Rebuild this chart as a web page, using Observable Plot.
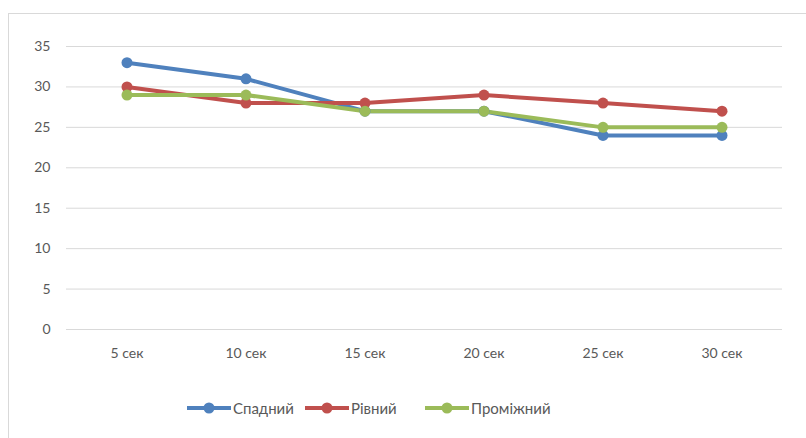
<!DOCTYPE html>
<html>
<head>
<meta charset="utf-8">
<script src="https://cdn.jsdelivr.net/npm/d3@7"></script>
<script src="https://cdn.jsdelivr.net/npm/@observablehq/plot@0.6"></script>
<style>
  html, body { margin: 0; padding: 0; background: #fff; }
  body { width: 806px; height: 438px; position: relative; overflow: hidden;
         font-family: Lato, "Open Sans", sans-serif; }
  #frame { position: absolute; left: 8px; top: 13px; width: 820px; height: 440px;
           border-top: 1px solid #d9d9d9; border-left: 1px solid #d9d9d9; }
  #chart { position: absolute; left: 0; top: 0; }
  #legend { position: absolute; left: 0; top: 396px; width: 806px; height: 24px; }
  .item { position: absolute; top: 0; display: flex; align-items: center; height: 24px;
          font-size: 15px; color: #595959; }
  .item svg { display: block; margin-right: 2px; }
</style>
</head>
<body>
<div id="frame"></div>
<div id="chart"></div>
<div id="legend"></div>
<script>
const categories = ["5 сек", "10 сек", "15 сек", "20 сек", "25 сек", "30 сек"];
const seriesNames = ["Спадний", "Рівний", "Проміжний"];
const spadnyi = [33, 31, 27, 27, 24, 24];
const rivnyi = [30, 28, 28, 29, 28, 27];
const promizhnyi = [29, 29, 27, 27, 25, 25];
const yTicks = [0, 5, 10, 15, 20, 25, 30, 35];
const colors = ["#4f81bd", "#c0504d", "#9bbb59"];

const seriesValues = [spadnyi, rivnyi, promizhnyi];
const data = [];
seriesValues.forEach((vals, s) => {
  vals.forEach((v, i) => data.push({ series: seriesNames[s], cat: categories[i], value: v }));
});

const chart = Plot.plot({
  width: 806,
  height: 390,
  marginLeft: 66,
  marginRight: 24,
  marginTop: 46,
  marginBottom: 61,
  style: { fontFamily: 'Lato, "Open Sans", sans-serif', background: "transparent" },
  x: { type: "band", domain: categories, padding: 0, label: null },
  y: { domain: [0, 35], ticks: yTicks, label: null },
  color: { domain: seriesNames, range: colors },
  marks: [
    Plot.ruleY(yTicks, { stroke: "#d9d9d9", strokeWidth: 1 }),
    Plot.axisY({ ticks: yTicks, tickSize: 0, tickPadding: 16, label: null, fill: "#595959", fontSize: 14 }),
    Plot.axisX({ tickSize: 0, tickPadding: 19, label: null, fill: "#595959", fontSize: 14 }),
    Plot.line(data, { x: "cat", y: "value", z: "series", stroke: "series", strokeWidth: 4, curve: "linear" }),
    Plot.dot(data, { x: "cat", y: "value", fill: "series", r: 5.5, stroke: null })
  ]
});
document.getElementById("chart").appendChild(chart);

const legendPos = [187, 305, 425];
const legend = document.getElementById("legend");
seriesNames.forEach((name, i) => {
  const item = document.createElement("div");
  item.className = "item";
  item.style.left = legendPos[i] + "px";
  item.innerHTML = `<svg width="44" height="14"><line x1="0" y1="7" x2="44" y2="7" stroke="${colors[i]}" stroke-width="4"/><circle cx="22" cy="7" r="5.5" fill="${colors[i]}"/></svg><span>${name}</span>`;
  legend.appendChild(item);
});
</script>
</body>
</html>
